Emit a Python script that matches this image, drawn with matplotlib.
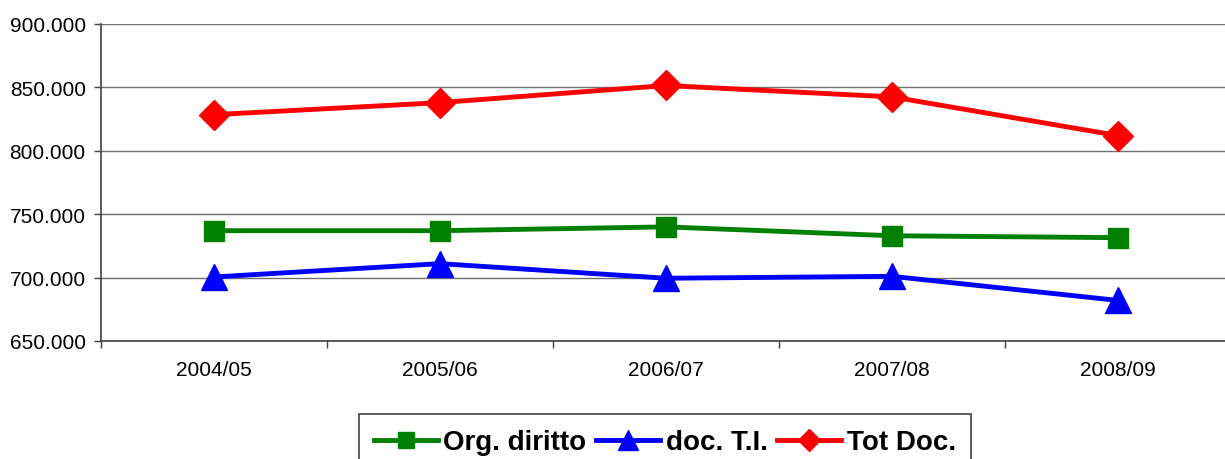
import matplotlib.pyplot as plt
from matplotlib.ticker import FuncFormatter, FixedLocator

plt.rcParams['font.family'] = ['Liberation Sans', 'DejaVu Sans']

years = ['2004/05', '2005/06', '2006/07', '2007/08', '2008/09']
org_diritto = [737000, 737000, 740000, 733000, 731500]
doc_ti = [700500, 711000, 699500, 701000, 682000]
tot_doc = [828500, 838000, 851500, 842500, 812000]

fig = plt.figure(figsize=(12.25, 4.6), dpi=100)
ax = fig.add_axes([101/1225, 1 - 342/460, 1130/1225, 317/460])

x = range(len(years))
ax.plot(x, org_diritto, color='#008000', lw=3.5, marker='s', ms=15,
        label='Org. diritto', zorder=3)
ax.plot(x, doc_ti, color='#0000ff', lw=3.5, marker='^', ms=19,
        label='doc. T.I.', zorder=3)
ax.plot(x, tot_doc, color='#ff0000', lw=3.5, marker='D', ms=15.5,
        label='Tot Doc.', zorder=3)

ax.set_ylim(650000, 900000)
ax.set_yticks(range(650000, 900001, 50000))
ax.yaxis.set_major_formatter(FuncFormatter(lambda v, p: f'{int(v):,}'.replace(',', '.')))
ax.set_xlim(-0.5, 4.5)
ax.set_xticks(list(x))
ax.set_xticklabels(years)
ax.xaxis.set_minor_locator(FixedLocator([i - 0.5 for i in range(6)]))
ax.tick_params(axis='x', which='major', length=0, pad=14, labelsize=15)
ax.tick_params(axis='x', which='minor', length=5, width=1, color='#404040')
ax.tick_params(axis='y', length=5, width=1, color='#404040', pad=6, labelsize=15)

ax.grid(axis='y', color='#707070', lw=1)
ax.set_axisbelow(True)
for s in ['top', 'right']:
    ax.spines[s].set_visible(False)
for s in ['left', 'bottom']:
    ax.spines[s].set_color('#404040')
    ax.spines[s].set_linewidth(1.2)

leg = fig.legend(loc='upper center', bbox_to_anchor=(665/1225, 1 - 415/460),
                 ncol=3, prop={'weight': 'bold', 'size': 20}, fancybox=False,
                 handlelength=2.3, handletextpad=0.2, columnspacing=0.35,
                 borderpad=0.55, borderaxespad=0, markerscale=0.75,
                 edgecolor='#505050', framealpha=1)
leg.get_frame().set_linewidth(1.3)

fig.savefig('out.png', dpi=100)
